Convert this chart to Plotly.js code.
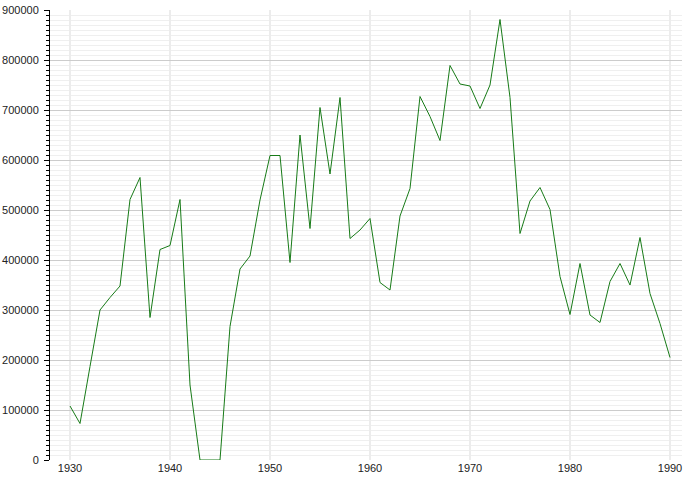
<!DOCTYPE html>
<html>
<head>
<meta charset="utf-8">
<script src="https://cdn.plot.ly/plotly-3.0.1.min.js"></script>
<style>html,body{margin:0;padding:0;background:#fff;}#chart{width:690px;height:480px;}</style>
</head>
<body>
<div id="chart"></div>
<script>
const years = [1930,1931,1932,1933,1934,1935,1936,1937,1938,1939,
               1940,1941,1942,1943,1944,1945,1946,1947,1948,1949,
               1950,1951,1952,1953,1954,1955,1956,1957,1958,1959,
               1960,1961,1962,1963,1964,1965,1966,1967,1968,1969,
               1970,1971,1972,1973,1974,1975,1976,1977,1978,1979,
               1980,1981,1982,1983,1984,1985,1986,1987,1988,1989,1990];
const values = [108000,73000,187000,300000,325000,348000,521000,565000,285000,421000,
                429000,521000,150000,0,0,0,267000,382000,408000,520000,
                609000,609000,395000,650000,463000,705000,572000,725000,443000,460000,
                483000,355000,340000,488000,543000,727000,687000,639000,789000,752000,
                748000,703000,750000,881000,725000,453000,518000,545000,501000,367000,
                291000,393000,290000,275000,357000,393000,350000,445000,333000,273000,205000];
const xTicks = [1930,1940,1950,1960,1970,1980,1990];
const yTicks = [0,100000,200000,300000,400000,500000,600000,700000,800000,900000];

const trace = {
  x: years, y: values, type: 'scatter', mode: 'lines',
  line: {color: '#177a17', width: 1},
  hoverinfo: 'skip'
};
const layout = {
  width: 690, height: 480,
  margin: {l: 50, r: 8, t: 10, b: 20},
  paper_bgcolor: '#ffffff', plot_bgcolor: '#ffffff',
  showlegend: false,
  font: {family: 'Liberation Sans, Arial, sans-serif', size: 11, color: '#222'},
  xaxis: {
    range: [1928, 1991.2],
    tickmode: 'array', tickvals: xTicks, ticktext: xTicks.map(String),
    showgrid: true, gridcolor: '#ececec', gridwidth: 2,
    zeroline: false, showline: false, ticks: '',
    tickfont: {size: 11, color: '#222'}
  },
  yaxis: {
    range: [0, 900000],
    tickmode: 'array', tickvals: yTicks, ticktext: yTicks.map(String),
    showgrid: true, gridcolor: '#cccccc', gridwidth: 1,
    zeroline: false,
    showline: true, linecolor: '#000', linewidth: 1,
    ticks: 'outside', ticklen: 5, tickcolor: '#000', tickwidth: 1,
    ticklabelstandoff: 3,
    tickfont: {size: 11, color: '#222'},
    minor: {dtick: 10000, tick0: 0, ticks: 'outside', ticklen: 3, tickcolor: '#000',
            showgrid: true, gridcolor: '#efefef', gridwidth: 1}
  }
};
Plotly.newPlot('chart', [trace], layout, {displayModeBar: false, staticPlot: true});
</script>
</body>
</html>
